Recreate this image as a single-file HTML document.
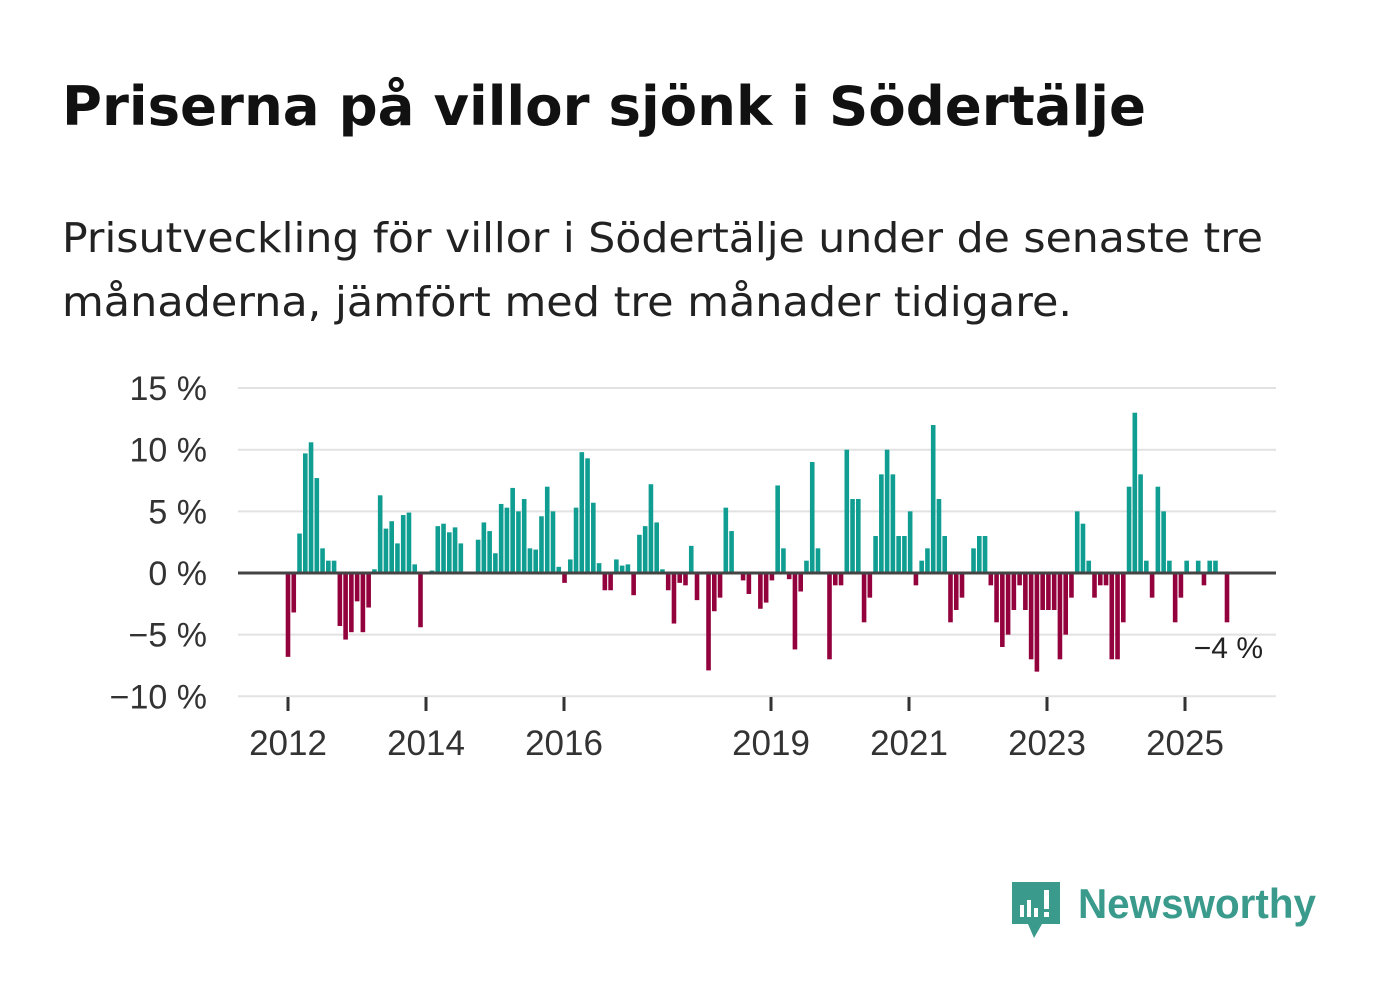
<!DOCTYPE html>
<html><head><meta charset="utf-8"><style>
body{margin:0;background:#fff;width:1382px;height:999px;overflow:hidden;font-family:"Liberation Sans","DejaVu Sans",sans-serif}
</style></head><body>
<svg width="1382" height="999">
<text x="62" y="125" font-size="54" font-weight="bold" fill="#111" font-family="'DejaVu Sans','Liberation Sans',sans-serif" textLength="1084" lengthAdjust="spacingAndGlyphs">Priserna på villor sjönk i Södertälje</text>
<text x="62" y="252" font-size="41" fill="#222" font-family="'DejaVu Sans','Liberation Sans',sans-serif" textLength="1201" lengthAdjust="spacingAndGlyphs">Prisutveckling för villor i Södertälje under de senaste tre</text>
<text x="62" y="316" font-size="41" fill="#222" font-family="'DejaVu Sans','Liberation Sans',sans-serif" textLength="1010" lengthAdjust="spacingAndGlyphs">månaderna, jämfört med tre månader tidigare.</text>
<g id="grid"></g><g id="bars"></g><g id="axes"></g>
<text x="1263" y="658" font-size="30" fill="#222" text-anchor="end">−4 %</text>
<g>
<path d="M1012 882h48v42h-18l-8 14-6-14h-16z" fill="#3a9a8c"/>
<rect x="1020" y="905" width="4" height="12" fill="#fff"/><rect x="1027" y="900" width="4" height="17" fill="#fff"/><rect x="1034" y="908" width="4" height="9" fill="#fff"/><rect x="1044" y="890" width="5" height="19" fill="#fff"/><rect x="1044" y="912" width="5" height="5" fill="#fff"/>
<text x="1078" y="918" font-size="42" font-weight="bold" fill="#3a9a8c" textLength="238" lengthAdjust="spacingAndGlyphs">Newsworthy</text></g>
</svg>
<script>
const yTicks=[15,10,5,0,-5,-10];
const yTickLabels=["15 %","10 %","5 %","0 %","−5 %","−10 %"];
const xYears=[2012,2014,2016,2019,2021,2023,2025];
const startYear=2012;
const values=[-6.8,-3.2,3.2,9.7,10.6,7.7,2.0,1.0,1.0,-4.3,-5.4,-4.8,-2.3,-4.8,-2.8,0.3,6.3,3.6,4.2,2.4,4.7,4.9,0.7,-4.4,0,0.2,3.8,4.0,3.3,3.7,2.4,0.1,0,2.7,4.1,3.4,1.6,5.6,5.3,6.9,5.0,6.0,2.0,1.9,4.6,7.0,5.0,0.5,-0.8,1.1,5.3,9.8,9.3,5.7,0.8,-1.4,-1.4,1.1,0.6,0.7,-1.8,3.1,3.8,7.2,4.1,0.3,-1.4,-4.1,-0.8,-1.0,2.2,-2.2,0,-7.9,-3.1,-2.0,5.3,3.4,0.1,-0.6,-1.7,0,-2.9,-2.4,-0.6,7.1,2.0,-0.5,-6.2,-1.5,1.0,9.0,2.0,0,-7.0,-1.0,-1.0,10.0,6.0,6.0,-4.0,-2.0,3.0,8.0,10.0,8.0,3.0,3.0,5.0,-1.0,1.0,2.0,12.0,6.0,3.0,-4.0,-3.0,-2.0,0,2.0,3.0,3.0,-1.0,-4.0,-6.0,-5.0,-3.0,-1.0,-3.0,-7.0,-8.0,-3.0,-3.0,-3.0,-7.0,-5.0,-2.0,5.0,4.0,1.0,-2.0,-1.0,-1.0,-7.0,-7.0,-4.0,7.0,13.0,8.0,1.0,-2.0,7.0,5.0,1.0,-4.0,-2.0,1.0,0,1.0,-1.0,1.0,1.0,0,-4.0];
const NS='http://www.w3.org/2000/svg';
const y=v=>573-v*12.33;
const xm=i=>288+i*(1227-288)/163;
const xy=yr=>288+(yr-startYear)*69;
const g=document.getElementById('grid'),b=document.getElementById('bars'),a=document.getElementById('axes');
function mk(t,at,p){const e=document.createElementNS(NS,t);for(const k in at)e.setAttribute(k,at[k]);p.appendChild(e);return e;}
yTicks.forEach((v,i)=>{
 if(v!==0){const l=mk('line',{x1:238,x2:1276,y1:y(v),y2:y(v),stroke:'#e2e2e2','stroke-width':2},g);
 
 }
 const t=mk('text',{x:207,y:y(v)+12,'font-size':34,fill:'#333','text-anchor':'end'},a);t.textContent=yTickLabels[i];
 
 
});
values.forEach((v,i)=>{
 const r=mk('rect',{x:xm(i)-2.3,width:4.6,y:v>=0?y(v):y(0),height:Math.abs(v)*12.33,fill:v>=0?'#0f9e91':'#93023d'},b);
 
 
});
const z=mk('line',{x1:238,x2:1276,y1:y(0),y2:y(0),stroke:'#444','stroke-width':3},a);


xYears.forEach(yr=>{
 const tk=mk('line',{x1:xy(yr),x2:xy(yr),y1:697,y2:711,stroke:'#333','stroke-width':3},a);
 
 
 const t=mk('text',{x:xy(yr),y:755,'font-size':35,fill:'#333','text-anchor':'middle'},a);t.textContent=yr;
 
 
});
</script>
</body></html>
